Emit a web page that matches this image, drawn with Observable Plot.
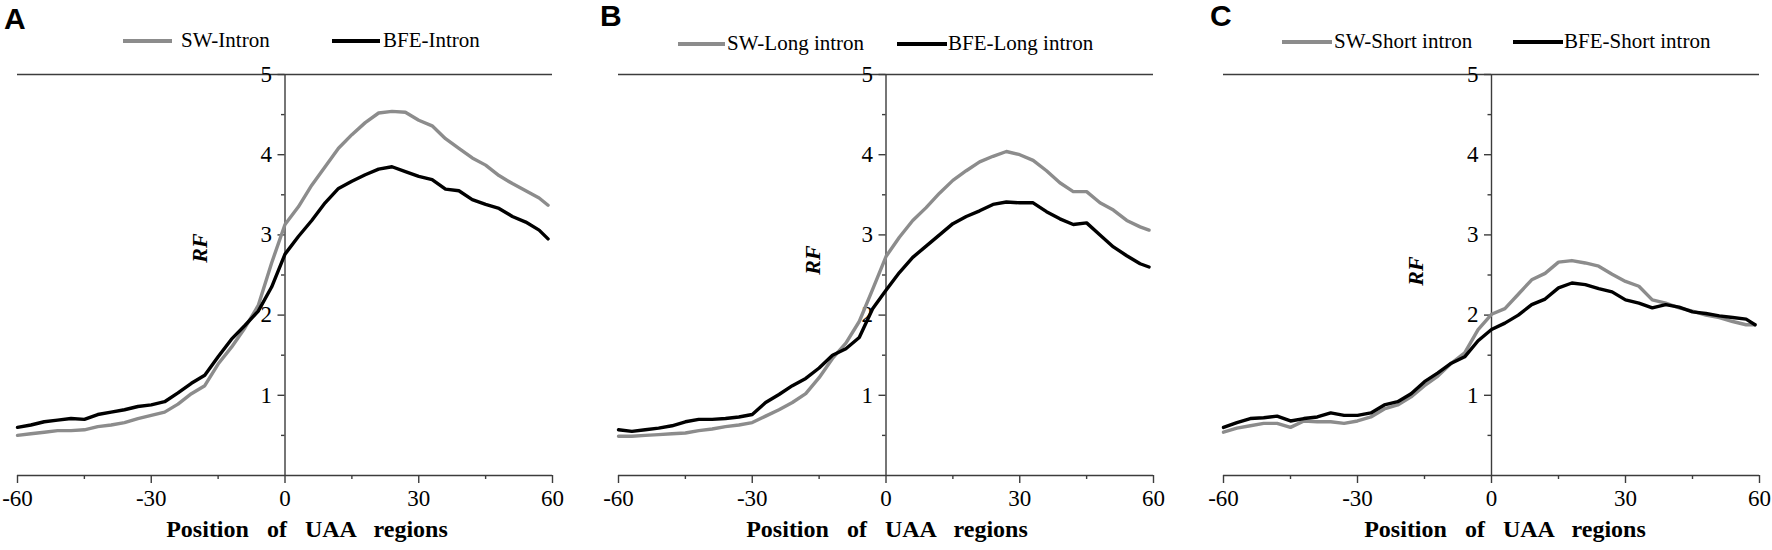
<!DOCTYPE html>
<html>
<head>
<meta charset="utf-8">
<script src="https://cdn.jsdelivr.net/npm/d3@7"></script>
<script src="https://cdn.jsdelivr.net/npm/@observablehq/plot@0.6"></script>
<style>
  body { margin: 0; background: #fff; }
  #wrap { position: relative; width: 1772px; height: 550px; overflow: hidden; background: #fff;
          font-family: "Liberation Serif", "Times New Roman", serif; color: #000; }
  .panel { position: absolute; top: 0; }
  .letter { position: absolute; font-family: "Liberation Sans", Arial, sans-serif; font-weight: bold;
            font-size: 30px; line-height: 1; }
  .legtxt { position: absolute; font-size: 21px; line-height: 1; white-space: nowrap; }
  .swatch { position: absolute; height: 4px; }
  .rf { position: absolute; font-weight: bold; font-style: italic; font-size: 22px; line-height: 1;
        transform: translate(-50%, -50%) rotate(-90deg); white-space: nowrap; }
  .xt { position: absolute; font-weight: bold; font-size: 24px; line-height: 1; word-spacing: 12px;
        transform: translateX(-50%); white-space: nowrap; }
</style>
</head>
<body>
<div id="wrap"></div>
<script>
// ---------------- data ----------------
const positions = [-60, -57, -54, -51, -48, -45, -42, -39, -36, -33, -30, -27, -24, -21, -18, -15, -12, -9, -6, -3,
                   0, 3, 6, 9, 12, 15, 18, 21, 24, 27, 30, 33, 36, 39, 42, 45, 48, 51, 54, 57, 59];

const swIntron  = [0.50, 0.52, 0.54, 0.56, 0.56, 0.57, 0.61, 0.63, 0.66, 0.71, 0.75, 0.79, 0.89, 1.02, 1.12, 1.39, 1.60, 1.84, 2.12, 2.65,
                   3.13, 3.35, 3.62, 3.85, 4.08, 4.25, 4.40, 4.52, 4.54, 4.53, 4.43, 4.36, 4.20, 4.08, 3.96, 3.87, 3.74, 3.64, 3.55, 3.46, 3.37];
const bfeIntron = [0.60, 0.63, 0.67, 0.69, 0.71, 0.70, 0.76, 0.79, 0.82, 0.86, 0.88, 0.92, 1.03, 1.15, 1.25, 1.48, 1.70, 1.87, 2.05, 2.35,
                   2.76, 2.98, 3.18, 3.40, 3.58, 3.67, 3.75, 3.82, 3.85, 3.79, 3.73, 3.69, 3.57, 3.55, 3.44, 3.38, 3.33, 3.23, 3.16, 3.06, 2.95];

const swLong    = [0.49, 0.49, 0.50, 0.51, 0.52, 0.53, 0.56, 0.58, 0.61, 0.63, 0.66, 0.74, 0.82, 0.91, 1.02, 1.22, 1.46, 1.65, 1.92, 2.32,
                   2.73, 2.97, 3.18, 3.34, 3.52, 3.68, 3.80, 3.91, 3.98, 4.04, 4.00, 3.93, 3.80, 3.65, 3.54, 3.54, 3.40, 3.31, 3.18, 3.10, 3.06];
const bfeLong   = [0.57, 0.55, 0.57, 0.59, 0.62, 0.67, 0.70, 0.70, 0.71, 0.73, 0.76, 0.91, 1.01, 1.12, 1.21, 1.34, 1.50, 1.58, 1.72, 2.08,
                   2.31, 2.53, 2.72, 2.86, 3.00, 3.14, 3.23, 3.30, 3.38, 3.41, 3.40, 3.40, 3.29, 3.20, 3.13, 3.15, 3.00, 2.85, 2.74, 2.64, 2.60];

const swShort   = [0.54, 0.59, 0.62, 0.65, 0.65, 0.60, 0.68, 0.67, 0.67, 0.65, 0.68, 0.73, 0.83, 0.88, 0.98, 1.12, 1.24, 1.40, 1.53, 1.82,
                   2.01, 2.08, 2.26, 2.44, 2.52, 2.66, 2.68, 2.65, 2.61, 2.51, 2.42, 2.36, 2.19, 2.15, 2.09, 2.05, 2.00, 1.97, 1.92, 1.88, 1.88];
const bfeShort  = [0.60, 0.66, 0.71, 0.72, 0.74, 0.68, 0.71, 0.73, 0.78, 0.75, 0.75, 0.78, 0.88, 0.92, 1.02, 1.17, 1.28, 1.40, 1.48, 1.68,
                   1.82, 1.90, 2.00, 2.13, 2.20, 2.34, 2.40, 2.38, 2.33, 2.29, 2.19, 2.15, 2.09, 2.13, 2.10, 2.04, 2.02, 1.99, 1.97, 1.95, 1.88];

const xMajorTicks = [-60, -30, 0, 30, 60];
const xMinorTicks = [-45, -15, 15, 45];
const yMajorTicks = [1, 2, 3, 4, 5];
const yMinorTicks = [0.5, 1.5, 2.5, 3.5, 4.5];

const panelLetters = ["A", "B", "C"];
const swLabels  = ["SW-Intron", "SW-Long intron", "SW-Short intron"];
const bfeLabels = ["BFE-Intron", "BFE-Long intron", "BFE-Short intron"];
const yTitle = "RF";
const xTitle = "Position of UAA regions";

// ---------------- layout / style ----------------
const GRAY = "#8c8c8c", BLACK = "#000000", AXIS = "#3c3c3c";
const layouts = [
  {left: 0,    width: 600, ml: 17, mr: 48, letter: [4, 4],    sw: [123, 172], swText: 181, bfe: [332, 380], bfeText: 383, legY: 41, rf: [200, 248], xt: 307},
  {left: 600,  width: 600, ml: 18, mr: 47, letter: [600, 1],  sw: [678, 725], swText: 727, bfe: [897, 947], bfeText: 948, legY: 44, rf: [813, 260], xt: 887},
  {left: 1200, width: 572, ml: 23, mr: 13, letter: [1210, 1], sw: [1282, 1332], swText: 1334, bfe: [1513, 1563], bfeText: 1564, legY: 42, rf: [1416, 271], xt: 1505}
];
const seriesSW  = [swIntron, swLong, swShort];
const seriesBFE = [bfeIntron, bfeLong, bfeShort];

const fmt = d => String(d);
const wrap = document.getElementById("wrap");

function el(cls, text, css) {
  const d = document.createElement("div");
  d.className = cls;
  if (text != null) d.textContent = text;
  Object.assign(d.style, css);
  wrap.appendChild(d);
  return d;
}

layouts.forEach((L, i) => {
  const sw = positions.map((p, j) => ({pos: p, v: seriesSW[i][j]}));
  const bfe = positions.map((p, j) => ({pos: p, v: seriesBFE[i][j]}));
  const chart = Plot.plot({
    width: L.width,
    height: 550,
    marginLeft: L.ml,
    marginRight: L.mr,
    marginTop: 74,
    marginBottom: 75,
    x: {domain: [-60, 60]},
    y: {domain: [0, 5]},
    style: {fontFamily: "'Liberation Serif', 'Times New Roman', serif", fontSize: "23px", color: "#000", background: "transparent", overflow: "visible"},
    marks: [
      Plot.ruleY([5], {stroke: AXIS, strokeWidth: 1.4}),
      Plot.ruleY([0], {stroke: AXIS, strokeWidth: 1.4}),
      Plot.ruleX([0], {stroke: AXIS, strokeWidth: 1.4}),
      Plot.axisX(xMajorTicks, {tickSize: 8, tickPadding: 6, tickFormat: fmt, stroke: AXIS, strokeWidth: 1.4, fill: "#000", fontSize: 23, label: null}),
      Plot.axisX(xMinorTicks, {tickSize: 4, stroke: AXIS, strokeWidth: 1.4, fill: "none", label: null}),
      Plot.axisY(yMajorTicks, {x: 0, anchor: "left", tickSize: 7, tickPadding: 6, tickFormat: fmt, stroke: AXIS, strokeWidth: 1.4, fill: "#000", fontSize: 23, label: null}),
      Plot.axisY(yMinorTicks, {x: 0, anchor: "left", tickSize: 3.5, stroke: AXIS, strokeWidth: 1.4, fill: "none", label: null}),
      Plot.line(sw, {x: "pos", y: "v", stroke: GRAY, strokeWidth: 3.4, strokeLinejoin: "round"}),
      Plot.line(bfe, {x: "pos", y: "v", stroke: BLACK, strokeWidth: 3.4, strokeLinejoin: "round"})
    ]
  });
  const holder = el("panel", null, {left: L.left + "px", width: L.width + "px"});
  holder.appendChild(chart);

  // panel letter
  el("letter", panelLetters[i], {left: L.letter[0] + "px", top: L.letter[1] + "px"});
  // legend
  el("swatch", null, {left: L.sw[0] + "px", width: (L.sw[1] - L.sw[0]) + "px", top: (L.legY - 2) + "px", background: GRAY});
  el("legtxt", swLabels[i], {left: L.swText + "px", top: (L.legY + 7 - 17.6) + "px"});
  el("swatch", null, {left: L.bfe[0] + "px", width: (L.bfe[1] - L.bfe[0]) + "px", top: (L.legY - 2) + "px", background: BLACK});
  el("legtxt", bfeLabels[i], {left: L.bfeText + "px", top: (L.legY + 7 - 17.6) + "px"});
  // y title
  el("rf", yTitle, {left: L.rf[0] + "px", top: L.rf[1] + "px"});
  // x title
  el("xt", xTitle, {left: L.xt + "px", top: "517px"});
});
</script>
</body>
</html>
